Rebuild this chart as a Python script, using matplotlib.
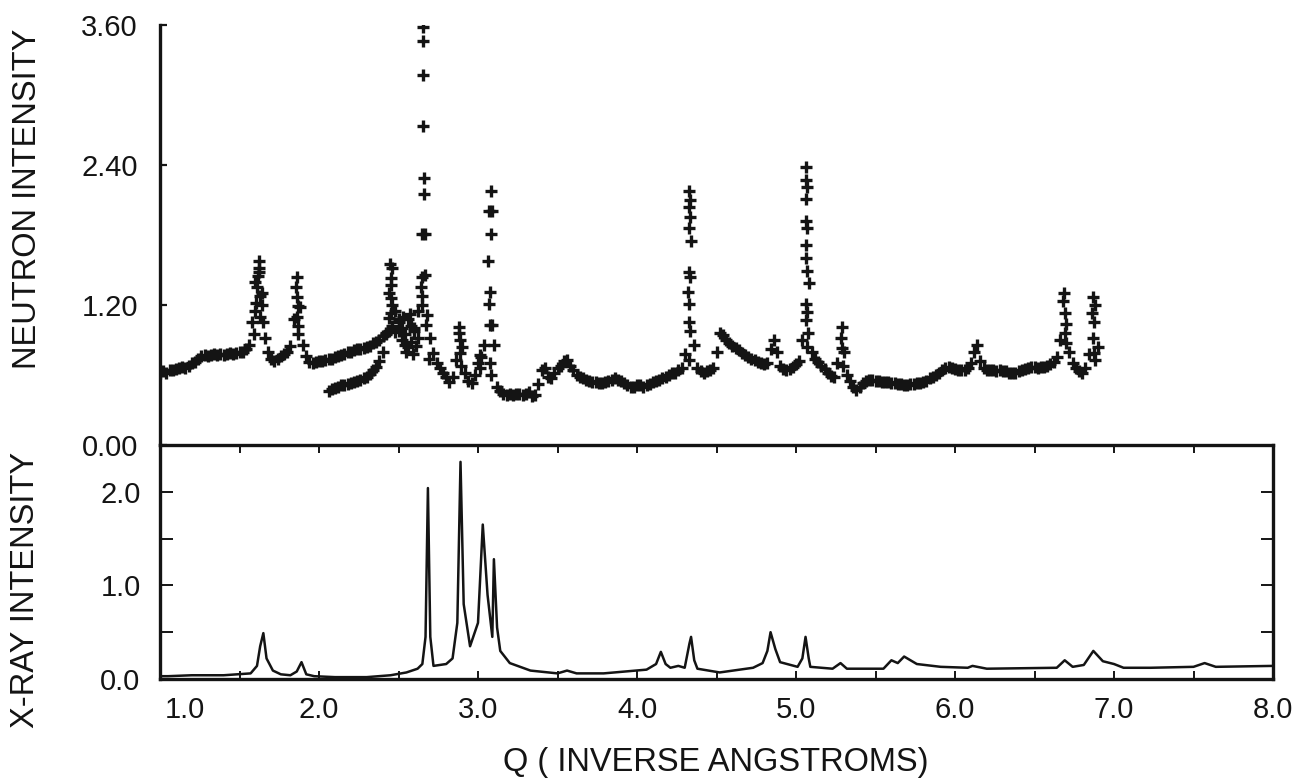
import numpy as np
import matplotlib.pyplot as plt
from matplotlib.transforms import ScaledTranslation

plt.rcParams["font.family"] = ["Liberation Sans", "DejaVu Sans"]

INK = "#141414"

# neutron data, low-Q bank: intensities on a 0.02 grid from Q = 1.00
neutron_a_start = 1.00
neutron_a = [
    0.62, 0.63, 0.62, 0.64, 0.64, 0.65, 0.66, 0.67, 0.66, 0.68,
    0.70, 0.71, 0.74, 0.76, 0.77, 0.76, 0.77, 0.78, 0.77, 0.78,
    0.77, 0.78, 0.79, 0.78, 0.79, 0.80, 0.80, 0.82, 0.86, 1.05,
    1.40, 1.58, 1.30, 0.92, 0.80, 0.74, 0.72, 0.74, 0.76, 0.78,
    0.80, 0.85, 1.08, 1.44, 1.18, 0.86, 0.76, 0.71, 0.70, 0.71,
    0.72, 0.72, 0.73, 0.74, 0.74, 0.75, 0.76, 0.77, 0.78, 0.80,
    0.80, 0.81, 0.82, 0.82, 0.83, 0.84, 0.85, 0.87, 0.88, 0.90,
    0.93, 0.96, 0.98, 1.02, 0.97, 1.05, 1.00, 0.95, 1.08, 1.02,
    0.98, 0.92,
]

# neutron data, second bank: intensities on a 0.02 grid from Q = 2.06
neutron_b_start = 2.06
neutron_b = [
    0.46, 0.48, 0.49, 0.50, 0.51, 0.51, 0.52, 0.53, 0.54, 0.55,  # 2.06
    0.56, 0.57, 0.58, 0.61, 0.64, 0.67, 0.72, 0.80, 0.95, 1.30,  # 2.26
    1.52, 1.15, 0.98, 0.90, 0.86, 0.84, 0.88, 1.00, 1.15, 1.35,  # 2.46
    2.15, 1.11, 0.92, 0.79, 0.70, 0.66, 0.62, 0.58, 0.54, 0.58,  # 2.66
    0.73, 0.96, 0.84, 0.62, 0.55, 0.53, 0.60, 0.70, 0.75, 0.86,  # 2.86
    1.58, 1.81, 0.86, 0.50, 0.46, 0.44, 0.43, 0.44, 0.43, 0.44,  # 3.06
    0.44, 0.43, 0.44, 0.45, 0.42, 0.43, 0.52, 0.64, 0.66, 0.58,  # 3.26
    0.57, 0.62, 0.66, 0.68, 0.72, 0.73, 0.68, 0.64, 0.60, 0.58,  # 3.46
    0.57, 0.56, 0.55, 0.54, 0.54, 0.53, 0.53, 0.54, 0.55, 0.56,  # 3.66
    0.57, 0.56, 0.55, 0.53, 0.51, 0.50, 0.50, 0.51, 0.51, 0.50,  # 3.86
    0.51, 0.52, 0.54, 0.55, 0.56, 0.57, 0.58, 0.60, 0.62, 0.62,  # 4.06
    0.64, 0.66, 0.78, 1.31, 1.75, 0.86, 0.66, 0.63, 0.62, 0.63,  # 4.26
    0.64, 0.66, 0.80, 0.96, 0.94, 0.90, 0.87, 0.85, 0.83, 0.81,  # 4.46
    0.79, 0.77, 0.75, 0.74, 0.73, 0.71, 0.70, 0.69, 0.70, 0.82,  # 4.66
    0.90, 0.80, 0.68, 0.65, 0.64, 0.65, 0.67, 0.69, 0.72, 0.90,  # 4.86
    1.60, 1.39, 0.80, 0.74, 0.71, 0.68, 0.65, 0.62, 0.59, 0.58,  # 5.06
    0.70, 0.92, 0.80, 0.60, 0.55, 0.50, 0.47, 0.50, 0.53, 0.55,  # 5.26
    0.56, 0.56, 0.55, 0.55, 0.54, 0.54, 0.54, 0.53, 0.53, 0.52,  # 5.46
    0.52, 0.51, 0.51, 0.52, 0.52, 0.53, 0.53, 0.54, 0.55, 0.57,  # 5.66
    0.58, 0.60, 0.62, 0.64, 0.66, 0.67, 0.66, 0.65, 0.64, 0.64,  # 5.86
    0.64, 0.66, 0.70, 0.80, 0.86, 0.72, 0.66, 0.64, 0.64, 0.64,  # 6.06
    0.63, 0.64, 0.63, 0.63, 0.62, 0.62, 0.62, 0.63, 0.64, 0.65,  # 6.26
    0.66, 0.67, 0.67, 0.66, 0.67, 0.67, 0.68, 0.69, 0.71, 0.75,  # 6.46
    0.90, 1.23, 1.04, 0.80, 0.70, 0.66, 0.63, 0.62, 0.66, 0.78,  # 6.66
    1.13, 1.20, 0.84,                                            # 6.86
]

# extra points that stand apart in the Bragg peaks
peak_q = [
    1.59, 1.60, 1.605, 1.61, 1.615, 1.62, 1.625, 1.63, 1.63, 1.64, 1.645,
    1.855, 1.86, 1.865, 1.86, 1.87, 1.865,
    2.445, 2.45, 2.455, 2.45, 2.455, 2.44, 2.46,
    2.50, 2.53, 2.55, 2.57, 2.59, 2.61,
    2.655, 2.655, 2.655, 2.655, 2.66, 2.65, 2.665, 2.665, 2.645, 2.645, 2.645, 2.675, 2.69,
    2.88, 2.885, 2.885, 2.89,
    3.01, 3.015,
    3.08, 3.07, 3.085, 3.075, 3.07, 3.075, 3.085, 3.075, 3.08,
    4.33, 4.335, 4.33, 4.335, 4.33, 4.325, 4.335, 4.33, 4.325, 4.335, 4.33,
    5.065, 5.065, 5.07, 5.065, 5.06, 5.07, 5.065, 5.07, 5.065, 5.07, 5.06, 5.075, 5.07,
    5.29, 5.29, 5.295,
    6.685, 6.69, 6.69, 6.695,
    6.87, 6.875, 6.87, 6.875, 6.88,
]
peak_i = [
    0.95, 1.15, 1.22, 1.35, 1.45, 1.52, 1.48, 1.28, 1.10, 1.20, 1.05,
    1.35, 1.27, 1.19, 1.10, 1.02, 0.95,
    1.55, 1.43, 1.37, 1.26, 1.13, 1.09, 1.20,
    1.08, 1.10, 0.80, 1.12, 0.78, 0.85,
    3.58, 3.46, 3.17, 2.73, 2.29, 1.81, 1.81, 1.46, 1.44, 1.28, 1.20, 1.03, 0.74,
    1.01, 0.90, 0.79, 0.68,
    0.77, 0.66,
    2.18, 2.01, 2.01, 1.31, 1.21, 1.03, 1.03, 0.70, 0.60,
    2.18, 2.10, 2.04, 1.95, 1.86, 1.48, 1.44, 1.21, 1.05, 0.98, 0.73,
    2.38, 2.27, 2.21, 2.11, 1.92, 1.86, 1.71, 1.49, 1.21, 1.14, 1.07, 0.96, 0.84,
    1.01, 0.83, 0.68,
    1.30, 1.13, 0.96, 0.87,
    1.27, 1.05, 0.92, 0.79, 0.73,
]

# x-ray trace
xray_q = [
    1.00, 1.05, 1.20, 1.40, 1.57, 1.61, 1.63, 1.65, 1.67, 1.71,
    1.76, 1.82, 1.86, 1.89, 1.92, 1.97, 2.10, 2.30, 2.45, 2.55,
    2.62, 2.65, 2.67, 2.685, 2.70, 2.72, 2.76, 2.80, 2.84, 2.87,
    2.89, 2.91, 2.95, 3.00, 3.03, 3.06, 3.09, 3.10, 3.12, 3.14,
    3.20, 3.33, 3.50, 3.56, 3.62, 3.79, 4.06, 4.12, 4.15, 4.18,
    4.21, 4.26, 4.30, 4.33, 4.34, 4.36, 4.38, 4.52, 4.73, 4.79,
    4.82, 4.84, 4.87, 4.90, 5.01, 5.04, 5.06, 5.08, 5.09, 5.23,
    5.28, 5.32, 5.55, 5.60, 5.64, 5.68, 5.76, 5.91, 6.08, 6.11,
    6.20, 6.64, 6.69, 6.74, 6.81, 6.87, 6.93, 7.00, 7.06, 7.23,
    7.50, 7.57, 7.64, 8.00,
]
xray_i = [
    0.03, 0.03, 0.04, 0.04, 0.06, 0.14, 0.35, 0.49, 0.22, 0.09,
    0.05, 0.04, 0.08, 0.18, 0.05, 0.03, 0.02, 0.02, 0.04, 0.07,
    0.11, 0.16, 0.45, 2.04, 0.45, 0.14, 0.15, 0.16, 0.22, 0.60,
    2.32, 0.80, 0.35, 0.60, 1.65, 0.90, 0.45, 1.28, 0.55, 0.30,
    0.17, 0.09, 0.06, 0.09, 0.06, 0.06, 0.10, 0.16, 0.29, 0.16,
    0.12, 0.14, 0.12, 0.38, 0.45, 0.20, 0.11, 0.07, 0.12, 0.17,
    0.30, 0.50, 0.32, 0.18, 0.13, 0.22, 0.45, 0.22, 0.13, 0.11,
    0.17, 0.11, 0.11, 0.20, 0.17, 0.24, 0.16, 0.13, 0.12, 0.14,
    0.11, 0.12, 0.20, 0.13, 0.15, 0.30, 0.19, 0.16, 0.12, 0.12,
    0.13, 0.17, 0.13, 0.14,
]

q_labels = ["1.0", "2.0", "3.0", "4.0", "5.0", "6.0", "7.0", "8.0"]
neutron_ticks = [0.0, 1.2, 2.4, 3.6]
neutron_labels = ["0.00", "1.20", "2.40", "3.60"]
xray_ticks = [0.0, 0.5, 1.0, 1.5, 2.0]
xray_labels = ["0.0", "", "1.0", "", "2.0"]

q_a = neutron_a_start + 0.02 * np.arange(len(neutron_a))
q_b = neutron_b_start + 0.02 * np.arange(len(neutron_b))

W, H = 1301, 784
fig = plt.figure(figsize=(W / 100, H / 100), dpi=100)

left, right = 160 / W, 1273 / W
ax_x = fig.add_axes([left, 1 - 679 / H, right - left, (679 - 445) / H])
ax_n = fig.add_axes([left, 1 - 445 / H, right - left, (445 - 25) / H], sharex=ax_x)
ax_n.patch.set_visible(False)

# neutron panel
mk = dict(linestyle="none", marker="+", ms=8.5, mew=2.4, color=INK)
ax_n.plot(q_a, neutron_a, **mk)
ax_n.plot(q_b, neutron_b, **mk)
ax_n.plot(peak_q, peak_i, **mk)
ax_n.set_ylim(0, 3.6)
for side in ("top", "right", "bottom"):
    ax_n.spines[side].set_visible(False)
ax_n.spines["left"].set_linewidth(2.4)
ax_n.spines["left"].set_color(INK)
ax_n.set_yticks(neutron_ticks, neutron_labels)
ax_n.tick_params(axis="y", direction="in", length=5, width=1.6, pad=16,
                 labelsize=21, colors=INK)
ax_n.tick_params(axis="x", bottom=False, labelbottom=False)

# x-ray panel
ax_x.plot(xray_q, xray_i, color=INK, lw=1.8)
ax_x.set_xlim(1.0, 8.0)
ax_x.set_ylim(0, 2.5)
for sp in ax_x.spines.values():
    sp.set_linewidth(2.4)
    sp.set_color(INK)
ax_x.set_yticks(xray_ticks, xray_labels)
x_ticks = np.arange(1.0, 8.01, 0.5)
x_tick_text = [q_labels[int(t) - 1] if t == int(t) else "" for t in x_ticks]
ax_x.set_xticks(x_ticks, x_tick_text)
ax_x.tick_params(axis="x", direction="in", length=6, width=1.4, top=True,
                 pad=12, labelsize=21, colors=INK)
ax_x.tick_params(axis="y", direction="in", length=9, width=1.4, right=True,
                 pad=14, labelsize=21, colors=INK)

# the first Q label sits clear of the frame corner
first = ax_x.get_xticklabels()[0]
first.set_transform(first.get_transform() + ScaledTranslation(0.25, 0, fig.dpi_scale_trans))

fig.text(28 / W, 1 - 199 / H, "NEUTRON INTENSITY", rotation=90, ha="center",
         va="center", fontsize=23.5, color=INK)
fig.text(26 / W, 1 - 590 / H, "X-RAY INTENSITY", rotation=90, ha="center",
         va="center", fontsize=23.5, color=INK)
fig.text(716 / W, 1 - 762 / H, "Q ( INVERSE ANGSTROMS)", ha="center",
         va="center", fontsize=23.5, color=INK)

fig.savefig("out.png", dpi=100)
